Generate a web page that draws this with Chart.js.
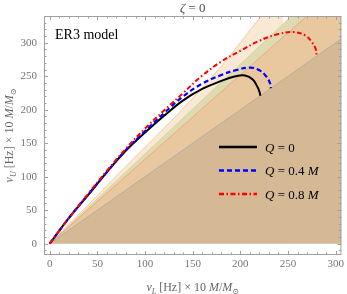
<!DOCTYPE html>
<html>
<head>
<meta charset="utf-8">
<script src="https://cdn.jsdelivr.net/npm/chart.js@4"></script>
<style>
  html, body { margin: 0; padding: 0; background: #fff; }
  #wrap { width: 347px; height: 294px; }
</style>
</head>
<body>
<div id="wrap"><canvas id="chart"></canvas></div>
<script>
// tick values
const xTicks = [0, 50, 100, 150, 200, 250, 300];
const yTicks = [0, 50, 100, 150, 200, 250, 300];

// outer shaded boundary (bends slightly upward)
const edgeOuterL = [0, 35, 74, 134, 180, 222, 245];
const edgeOuterU = [0, 50, 107, 193, 265, 340, 377];
// inner straight boundaries nu_U = k * nu_L
const edgeRatios = [1.34, 1.26, 1];

// Q = 0
const nuL_Q0 = [0, 20, 40, 60, 80, 100, 120, 140, 160, 180, 195, 205, 213, 218, 220, 221];
const nuU_Q0 = [0, 38, 72, 107, 139, 166, 191, 214, 231, 243, 250, 251, 245, 234, 227, 221];
// Q = 0.4 M
const nuL_Q04 = [0, 20, 40, 60, 80, 100, 120, 140, 160, 180, 195, 210, 220, 227, 231, 232];
const nuU_Q04 = [0, 38, 73, 107, 140, 168, 195, 220, 239, 252, 259, 263, 259, 250, 240, 232];
// Q = 0.8 M
const nuL_Q08 = [0, 20, 40, 60, 80, 100, 120, 140, 160, 180, 200, 220, 240, 256, 268, 275, 279, 280];
const nuU_Q08 = [0, 38, 74, 109, 142, 172, 199, 225, 251, 272, 288, 303, 313, 316, 311, 301, 291, 281];

const xRange = [-6, 306];
const yRange = [-17, 340];

const bandColors = ['#f8e8d4', '#e0dab2', '#e9c89f', '#d5b994'];
const bandEdges = ['#f2c48e', '#d8d090', '#eb9f78', '#aaaaaa'];

const pts = (xs, ys) => xs.map((v, i) => ({x: v, y: ys[i]}));

const serif = '"Liberation Serif", "DejaVu Serif", serif';

const bandData = [pts(edgeOuterL, edgeOuterU)].concat(
  edgeRatios.map(k => [{x: 0, y: 0}, {x: xRange[1], y: k * xRange[1]}]));

const bands = bandData.map((d, i) => ({
  data: d,
  borderColor: bandEdges[i],
  borderWidth: 0.8,
  backgroundColor: bandColors[i],
  fill: 'origin',
  pointRadius: 0,
  cubicInterpolationMode: 'monotone',
  order: 20 - i
}));

const curves = [
  {data: pts(nuL_Q0, nuU_Q0), borderColor: '#000', borderWidth: 2, borderDash: [], order: 3},
  {data: pts(nuL_Q04, nuU_Q04), borderColor: '#0000ff', borderWidth: 2.2, borderDash: [5, 3], order: 2},
  {data: pts(nuL_Q08, nuU_Q08), borderColor: '#ff0000', borderWidth: 2, borderDash: [5, 2.5, 1.5, 2.5], order: 1}
].map(c => Object.assign({fill: false, pointRadius: 0, tension: 0.4}, c));

// rich text: parts = [[text, style]] style: r, i, s (sub), si (sub italic)
function richText(ctx, parts, x, y, size, align) {
  const fontOf = st => (st.includes('i') ? 'italic ' : '') + ((st.includes('s') ? Math.round(size * 0.7) : size) + 'px ') + serif;
  let w = 0;
  parts.forEach(([t, st]) => { ctx.font = fontOf(st); w += ctx.measureText(t).width; });
  let cx = align === 'center' ? x - w / 2 : x;
  ctx.textAlign = 'left';
  ctx.textBaseline = 'alphabetic';
  parts.forEach(([t, st]) => {
    ctx.font = fontOf(st);
    ctx.fillText(t, cx, st.includes('s') ? y + size * 0.25 : y);
    cx += ctx.measureText(t).width;
  });
}

const decorations = {
  id: 'decorations',
  afterDraw(chart) {
    const {ctx, chartArea: a, scales: {x, y}} = chart;
    ctx.save();
    // frame
    ctx.strokeStyle = '#a0a0a0';
    ctx.lineWidth = 1;
    ctx.strokeRect(a.left + 0.5, a.top + 0.5, a.width - 1, a.height - 1);
    // inward ticks on all four sides
    ctx.beginPath();
    for (let v = -10; v <= xRange[1]; v += 10) {
      if (v < xRange[0]) continue;
      const p = Math.round(x.getPixelForValue(v)) + 0.5;
      const len = v % 50 === 0 ? 4 : 2.5;
      ctx.moveTo(p, a.bottom); ctx.lineTo(p, a.bottom - len);
      ctx.moveTo(p, a.top); ctx.lineTo(p, a.top + len);
    }
    for (let v = -10; v <= yRange[1]; v += 10) {
      if (v < yRange[0]) continue;
      const p = Math.round(y.getPixelForValue(v)) + 0.5;
      const len = v % 50 === 0 ? 4 : 2.5;
      ctx.moveTo(a.left, p); ctx.lineTo(a.left + len, p);
      ctx.moveTo(a.right, p); ctx.lineTo(a.right - len, p);
    }
    ctx.stroke();

    // title
    ctx.fillStyle = '#555';
    richText(ctx, [['ζ', 'i'], [' = 0', 'r']], (a.left + a.right) / 2, 12, 13, 'center');
    // x axis title
    ctx.fillStyle = '#666';
    richText(ctx, [['ν', 'i'], ['L', 'si'], [' [Hz] × 10 ', 'r'], ['M', 'i'], ['/', 'r'], ['M', 'i'], ['⊙', 's']],
      (a.left + a.right) / 2, 291, 12, 'center');
    // y axis title
    ctx.save();
    ctx.translate(13, (a.top + a.bottom) / 2);
    ctx.rotate(-Math.PI / 2);
    richText(ctx, [['ν', 'i'], ['U', 'si'], [' [Hz] × 10 ', 'r'], ['M', 'i'], ['/', 'r'], ['M', 'i'], ['⊙', 's']],
      0, 0, 12, 'center');
    ctx.restore();

    // model label
    ctx.fillStyle = '#000';
    richText(ctx, [['ER3 model', 'r']], a.left + 11, 39, 14, 'left');

    // legend
    const rows = [[['Q', 'i'], [' = 0', 'r']],
                  [['Q', 'i'], [' = 0.4 ', 'r'], ['M', 'i']],
                  [['Q', 'i'], [' = 0.8 ', 'r'], ['M', 'i']]];
    curves.forEach((c, i) => {
      const ly = 147 + i * 23.5;
      ctx.strokeStyle = c.borderColor;
      ctx.lineWidth = c.borderWidth + 0.3;
      ctx.setLineDash(c.borderDash);
      ctx.beginPath();
      ctx.moveTo(219, ly); ctx.lineTo(257, ly);
      ctx.stroke();
      ctx.setLineDash([]);
      ctx.fillStyle = '#000';
      richText(ctx, rows[i], 265, ly + 4.5, 13, 'left');
    });
    ctx.restore();
  }
};

new Chart(document.getElementById('chart'), {
  type: 'line',
  data: {datasets: [...curves, ...bands]},
  options: {
    responsive: true,
    maintainAspectRatio: false,
    animation: false,
    layout: {padding: {left: 0, right: 4, top: 16, bottom: 0}},
    plugins: {legend: {display: false}, tooltip: {enabled: false}},
    scales: {
      x: {
        type: 'linear',
        min: xRange[0], max: xRange[1],
        grid: {display: false, drawTicks: false},
        border: {display: false},
        afterBuildTicks: s => { s.ticks = xTicks.map(v => ({value: v})); },
        afterFit: s => { s.height = 39; },
        ticks: {color: '#777', padding: 3, maxRotation: 0, font: {family: serif, size: 11}}
      },
      y: {
        type: 'linear',
        min: yRange[0], max: yRange[1],
        grid: {display: false, drawTicks: false},
        border: {display: false},
        afterBuildTicks: s => { s.ticks = yTicks.map(v => ({value: v})); },
        afterFit: s => { s.width = 44; },
        ticks: {color: '#777', padding: 7, font: {family: serif, size: 11}}
      }
    }
  },
  plugins: [decorations]
});
</script>
</body>
</html>
